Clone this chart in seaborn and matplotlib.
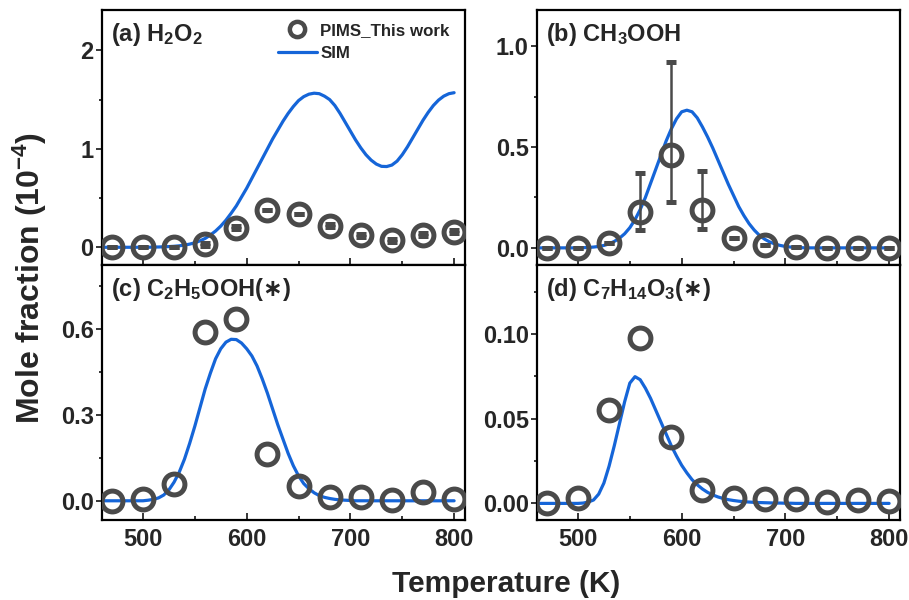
import numpy as np
import pandas as pd
import matplotlib
matplotlib.use('Agg')
import matplotlib.pyplot as plt
import seaborn as sns
from matplotlib.ticker import MultipleLocator, AutoMinorLocator, FormatStrFormatter
from matplotlib.lines import Line2D

# measured points (PIMS)
temp_exp = [470, 500, 530, 560, 590, 620, 650, 680, 710, 740, 770, 800]
h2o2_exp = [0.0, 0.0, 0.0, 0.03, 0.20, 0.38, 0.34, 0.22, 0.12, 0.07, 0.125, 0.16]
h2o2_err = [0.0, 0.0, 0.0, 0.015, 0.015, 0.0, 0.0, 0.015, 0.015, 0.012, 0.015, 0.015]
ch3ooh_exp = [0.0, 0.0, 0.025, 0.18, 0.46, 0.19, 0.05, 0.013, 0.005, 0.0, 0.0, 0.0]
ch3ooh_err_lo = [0, 0, 0, 0.09, 0.23, 0.095, 0, 0, 0, 0, 0, 0]
ch3ooh_err_hi = [0, 0, 0, 0.19, 0.46, 0.19, 0, 0, 0, 0, 0, 0]
c2h5ooh_exp = [0.0, 0.007, 0.057, 0.588, 0.633, 0.162, 0.053, 0.012, 0.012, 0.003, 0.029, 0.005]
c7h14o3_exp = [0.0, 0.003, 0.0553, 0.0974, 0.039, 0.0079, 0.0033, 0.0026, 0.0024, 0.0008, 0.002, 0.0014]

# simulation curves (SIM), read every 5 K from 460 to 800 K
temp_sim = list(range(460, 805, 5))
h2o2_sim = [0, 0, 0, 0, 0, 0, 0, 0, 0, 0,
            0.002, 0.003, 0.005, 0.007, 0.01, 0.015, 0.022, 0.032, 0.046, 0.065,
            0.09, 0.125, 0.165, 0.215, 0.275, 0.345, 0.42, 0.51, 0.6, 0.7,
            0.8, 0.9, 1.0, 1.1, 1.19, 1.28, 1.36, 1.43, 1.49, 1.53,
            1.555, 1.565, 1.56, 1.535, 1.5, 1.44, 1.36, 1.27, 1.18, 1.09,
            1.01, 0.94, 0.885, 0.845, 0.822, 0.82, 0.835, 0.875, 0.94, 1.02,
            1.11, 1.2, 1.29, 1.37, 1.44, 1.495, 1.535, 1.56, 1.57]
ch3ooh_sim = [0, 0, 0, 0, 0, 0, 0, 0, 0, 0.001,
              0.002, 0.004, 0.007, 0.012, 0.02, 0.032, 0.048, 0.07, 0.1, 0.14,
              0.19, 0.25, 0.32, 0.39, 0.46, 0.53, 0.59, 0.64, 0.675, 0.683,
              0.675, 0.645, 0.6, 0.55, 0.495, 0.435, 0.375, 0.315, 0.26, 0.205,
              0.16, 0.12, 0.088, 0.062, 0.043, 0.029, 0.019, 0.012, 0.007, 0.004,
              0.002, 0.001, 0, 0, 0, 0, 0, 0, 0, 0,
              0, 0, 0, 0, 0, 0, 0, 0, 0]
c2h5ooh_sim = [0, 0, 0, 0, 0, 0, 0, 0, 0, 0.002,
               0.005, 0.01, 0.02, 0.038, 0.065, 0.1, 0.145, 0.2, 0.26, 0.325,
               0.39, 0.445, 0.495, 0.53, 0.553, 0.563, 0.562, 0.55, 0.53, 0.505,
               0.47, 0.425, 0.375, 0.32, 0.265, 0.215, 0.165, 0.122, 0.087, 0.06,
               0.042, 0.028, 0.018, 0.012, 0.008, 0.005, 0.003, 0.002, 0.001, 0,
               0, 0, 0, 0, 0, 0, 0, 0, 0, 0,
               0, 0, 0, 0, 0, 0, 0, 0, 0]
c7h14o3_sim = [0, 0, 0, 0, 0, 0, 0, 0, 0, 0.0002,
               0.0008, 0.002, 0.0055, 0.012, 0.022, 0.034, 0.047, 0.06, 0.071, 0.0748,
               0.073, 0.068, 0.062, 0.055, 0.048, 0.041, 0.034, 0.028, 0.0225, 0.018,
               0.014, 0.011, 0.0085, 0.0065, 0.005, 0.0038, 0.0029, 0.0022, 0.0017, 0.0013,
               0.001, 0.0008, 0.0006, 0.0005, 0.0004, 0.0003, 0.0002, 0.0002, 0.0001, 0.0001,
               0, 0, 0, 0, 0, 0, 0, 0, 0, 0,
               0, 0, 0, 0, 0, 0, 0, 0, 0]

sns.set_style('ticks')
plt.rcParams['font.family'] = ['Liberation Sans', 'DejaVu Sans']
plt.rcParams['font.weight'] = 'bold'
plt.rcParams['axes.labelweight'] = 'bold'
plt.rcParams['mathtext.fontset'] = 'custom'
plt.rcParams['mathtext.rm'] = 'Liberation Sans:bold'
plt.rcParams['mathtext.it'] = 'Liberation Sans:bold'
plt.rcParams['mathtext.bf'] = 'Liberation Sans:bold'
plt.rcParams['mathtext.sf'] = 'DejaVu Sans:bold'
plt.rcParams['mathtext.default'] = 'rm'

blue = '#1565d8'
grey = '#4a4a4a'
fs = 17

fig = plt.figure(figsize=(9.09, 6), dpi=100)
fig.patch.set_facecolor('white')

w = 363 / 909
h = 255 / 600
ax_a = fig.add_axes([102 / 909, 1 - 265 / 600, w, h])
ax_b = fig.add_axes([537 / 909, 1 - 265 / 600, w, h])
ax_c = fig.add_axes([102 / 909, 1 - 520 / 600, w, h])
ax_d = fig.add_axes([537 / 909, 1 - 520 / 600, w, h])

star = '($\\mathsf{\u2217}$)'
panels = [
    (ax_a, h2o2_sim, h2o2_exp, [h2o2_err, h2o2_err], '(a) H$_2$O$_2$', (-0.18, 2.41), 1, '%d'),
    (ax_b, ch3ooh_sim, ch3ooh_exp, [ch3ooh_err_lo, ch3ooh_err_hi], '(b) CH$_3$OOH', (-0.085, 1.18), 0.5, '%.1f'),
    (ax_c, c2h5ooh_sim, c2h5ooh_exp, None, '(c) C$_2$H$_5$OOH' + star, (-0.067, 0.822), 0.3, '%.1f'),
    (ax_d, c7h14o3_sim, c7h14o3_exp, None, '(d) C$_7$H$_{14}$O$_3$' + star, (-0.0098, 0.1407), 0.05, '%.2f'),
]

for ax, sim, exp, err, label, ylim, step, fmt in panels:
    ax.set_facecolor('white')
    sns.lineplot(x=temp_sim, y=sim, ax=ax, color=blue, lw=2.3, zorder=2)
    ax.errorbar(temp_exp, exp, yerr=err, fmt='o', ms=15, mfc='none', mec=grey, mew=3.6,
                ecolor=grey, elinewidth=1.8, capsize=3.5, capthick=1.8, zorder=3)
    ax.set_xlim(460.5, 810.5)
    ax.set_ylim(*ylim)
    ax.xaxis.set_major_locator(MultipleLocator(100))
    ax.xaxis.set_minor_locator(AutoMinorLocator(2))
    ax.yaxis.set_major_locator(MultipleLocator(step))
    ax.yaxis.set_minor_locator(AutoMinorLocator(2))
    ax.yaxis.set_major_formatter(FormatStrFormatter(fmt))
    ax.tick_params(axis='x', which='both', direction='in', labelsize=fs, pad=6)
    ax.tick_params(axis='x', which='major', length=5, width=1.3)
    ax.tick_params(axis='x', which='minor', length=3, width=1.3)
    ax.tick_params(axis='y', which='both', direction='out', labelsize=fs, pad=2)
    ax.tick_params(axis='y', which='major', length=4, width=1.3)
    ax.tick_params(axis='y', which='minor', length=2.5, width=1.3)
    for lab in ax.get_xticklabels() + ax.get_yticklabels():
        lab.set_fontweight('bold')
    for s in ax.spines.values():
        s.set_linewidth(1.6)
        s.set_color('black')
    ax.set_xlabel('')
    ax.set_ylabel('')
    ax.text(0.025, 0.955, label, transform=ax.transAxes, ha='left', va='top',
            fontsize=fs, fontweight='bold')

for ax in (ax_a, ax_b):
    ax.tick_params(axis='x', labelbottom=False)

handles = [Line2D([], [], marker='o', ls='none', ms=11, mfc='none', mec=grey, mew=3.2),
           Line2D([], [], color=blue, lw=2.3)]
ax_a.legend(handles, ['PIMS_This work', 'SIM'], loc='upper right', bbox_to_anchor=(0.99, 0.995),
            frameon=False, prop={'size': 12.2, 'weight': 'bold'}, handlelength=2.3,
            handletextpad=0.2, labelspacing=0.45, borderaxespad=0.3)

fig.text(0.557, 0.004, 'Temperature (K)', ha='center', va='bottom', fontsize=21.5, fontweight='bold')
fig.text(0.033, 0.537, 'Mole fraction (10$^{-4}$)', ha='center', va='center', rotation=90,
         fontsize=23, fontweight='bold')

fig.savefig('out.png', dpi=100, facecolor='white')
